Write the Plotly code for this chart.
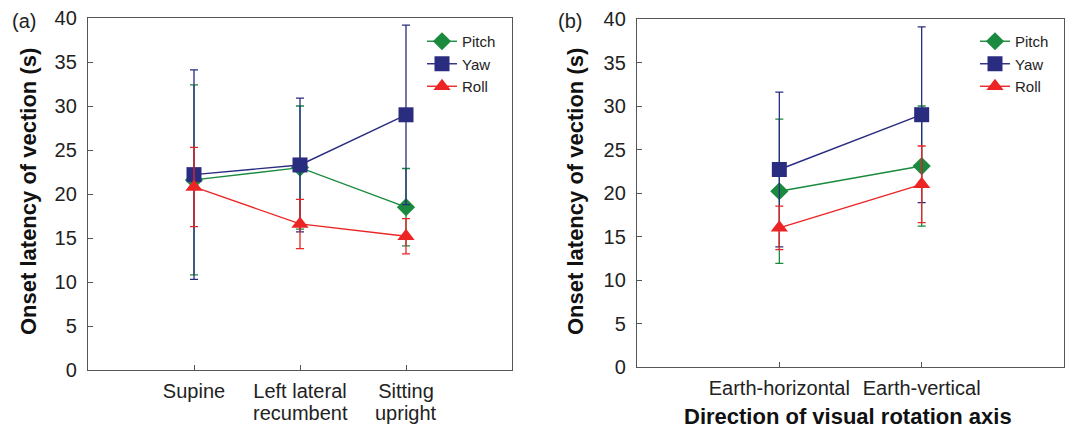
import plotly.graph_objects as go

# ---- data ----
cats_a = ["Supine", "Left lateral", "Sitting"]
cats_a_line2 = ["", "recumbent", "upright"]
cats_b = ["Earth-horizontal", "Earth-vertical"]

pitch_a = [21.6, 23.0, 18.5]
pitch_a_err = [10.8, 7.0, 4.4]
yaw_a = [22.2, 23.3, 29.0]
yaw_a_err = [11.9, 7.6, 10.2]
roll_a = [20.8, 16.6, 15.2]
roll_a_err = [4.5, 2.8, 2.0]

pitch_b = [20.2, 23.1]
pitch_b_err = [8.3, 6.9]
yaw_b = [22.7, 29.0]
yaw_b_err = [8.9, 10.1]
roll_b = [16.0, 21.0]
roll_b_err = [2.5, 4.4]

y_ticks = [0, 5, 10, 15, 20, 25, 30, 35, 40]

FONT = "Arial, Liberation Sans, sans-serif"
GREEN = "#1a8a3e"
NAVY = "#2a2c80"
RED = "#ec2424"

series = [
    ("Pitch", GREEN, "diamond", 14),
    ("Yaw", NAVY, "square", 15),
    ("Roll", RED, "triangle-up", 15),
]

fig = go.Figure()

data_a = [(pitch_a, pitch_a_err), (yaw_a, yaw_a_err), (roll_a, roll_a_err)]
data_b = [(pitch_b, pitch_b_err), (yaw_b, yaw_b_err), (roll_b, roll_b_err)]

for (name, col, sym, sz), (vals, err) in zip(series, data_a):
    fig.add_trace(go.Scatter(
        x=list(range(len(cats_a))), y=vals, name=name, mode="lines+markers",
        line=dict(color=col, width=1.4),
        marker=dict(symbol=sym, size=sz, color=col),
        error_y=dict(type="data", array=err, visible=True, color=col, thickness=1.3, width=4),
        xaxis="x", yaxis="y", legend="legend",
    ))

for (name, col, sym, sz), (vals, err) in zip(series, data_b):
    fig.add_trace(go.Scatter(
        x=list(range(len(cats_b))), y=vals, name=name, mode="lines+markers",
        line=dict(color=col, width=1.4),
        marker=dict(symbol=sym, size=sz, color=col),
        error_y=dict(type="data", array=err, visible=True, color=col, thickness=1.3, width=4),
        xaxis="x2", yaxis="y2", legend="legend2",
    ))

axis_common = dict(
    showline=True, linecolor="#555555", linewidth=1.3, mirror=True,
    ticks="inside", ticklen=5, tickcolor="#555555", tickwidth=1.2,
    showgrid=False, zeroline=False, automargin=False,
    tickfont=dict(family=FONT, size=20, color="#222222"),
)

fig.update_layout(
    width=1068, height=430,
    margin=dict(l=0, r=0, t=0, b=0, pad=0, autoexpand=False),
    paper_bgcolor="white", plot_bgcolor="white",
    font=dict(family=FONT, color="#222222"),
    xaxis=dict(domain=[88/1068, 512/1068], range=[-1, 3],
               tickvals=list(range(len(cats_a))), ticktext=cats_a,
               ticklabelstandoff=3, anchor="y", **axis_common),
    yaxis=dict(domain=[60/430, 412/430], range=[0, 40], tickvals=y_ticks,
               ticklabelstandoff=6, anchor="x", **axis_common),
    xaxis2=dict(domain=[637/1068, 1064/1068], range=[-1, 2],
                tickvals=list(range(len(cats_b))), ticktext=cats_b,
                ticklabelstandoff=3, anchor="y2", **axis_common),
    yaxis2=dict(domain=[63/430, 411/430], range=[0, 40], tickvals=y_ticks,
                ticklabelstandoff=6, anchor="x2", **axis_common),
    legend=dict(x=422/1068, y=1 - 25/430, xanchor="left", yanchor="top",
                bgcolor="rgba(0,0,0,0)", font=dict(family=FONT, size=15, color="#222222"),
                tracegroupgap=0, itemwidth=30),
    legend2=dict(x=975/1068, y=1 - 25/430, xanchor="left", yanchor="top",
                 bgcolor="rgba(0,0,0,0)", font=dict(family=FONT, size=15, color="#222222"),
                 tracegroupgap=0, itemwidth=30),
    showlegend=True,
)

def ann(text, x, y, size, color="#222222", xref="paper", angle=0):
    return dict(text=text, x=x, y=y, xref=xref, yref="paper", showarrow=False,
                xanchor="center", yanchor="middle", textangle=angle,
                font=dict(family=FONT, size=size, color=color))

annotations = [
    ann("(a)", 24/1068, 1 - 21/430, 20),
    ann("(b)", 570/1068, 1 - 21/430, 20),
    ann("<b>Onset latency of vection (s)</b>", 28/1068, 1 - 192/430, 22, "#111111", angle=-90),
    ann("<b>Onset latency of vection (s)</b>", 575/1068, 1 - 192/430, 22, "#111111", angle=-90),
    ann("<b>Direction of visual rotation axis</b>", 848/1068, 1 - 416/430, 22, "#111111"),
]
for i, t in enumerate(cats_a_line2):
    if t:
        annotations.append(ann(t, i, 1 - 413/430, 20, xref="x"))
fig.update_layout(annotations=annotations)

fig.write_html("out.html")
